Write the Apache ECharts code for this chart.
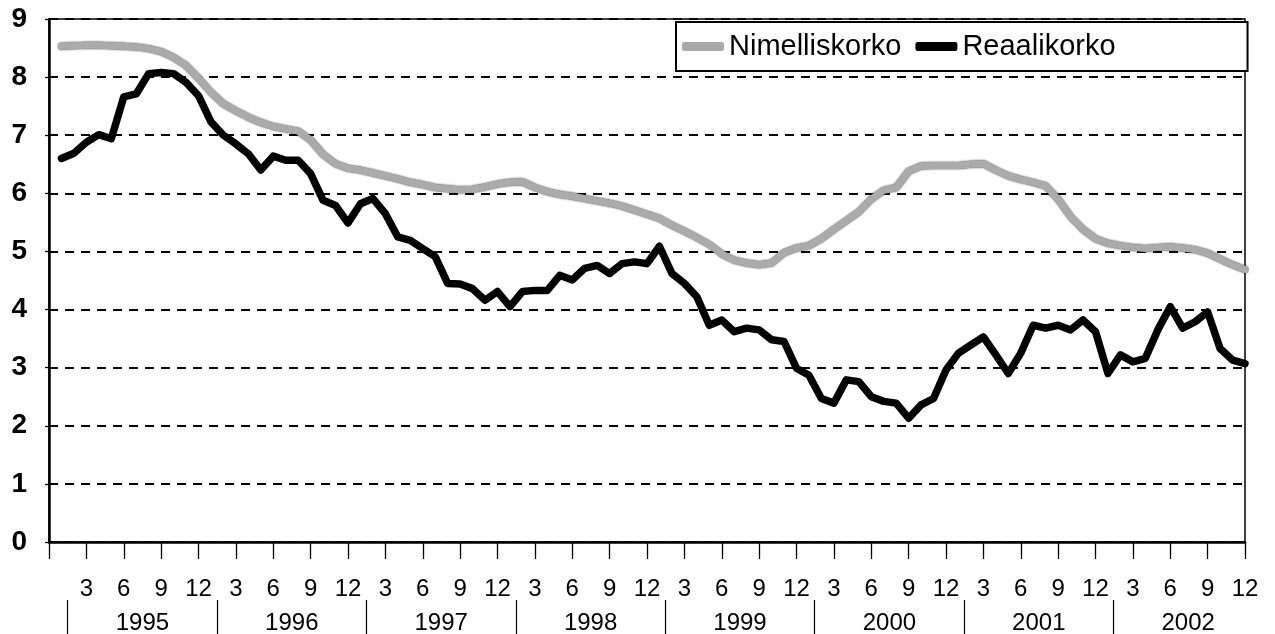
<!DOCTYPE html>
<html>
<head>
<meta charset="utf-8">
<title>Nimelliskorko ja reaalikorko</title>
<script src="https://cdn.jsdelivr.net/npm/echarts@6/dist/echarts.min.js"></script>
<style>
html,body{margin:0;padding:0;background:#fff;}
#main{width:1275px;height:634px;}
</style>
</head>
<body>
<div id="main"></div>
<script>
//kuukausiarvot 1/1995 - 12/2002
var nimelliskorko=[
    8.53,8.54,8.55,8.55,8.54,8.53,8.52,8.49,8.44,8.34,8.20,7.98,
    7.74,7.54,7.42,7.31,7.22,7.15,7.11,7.07,6.92,6.67,6.51,6.43,
    6.40,6.35,6.30,6.25,6.19,6.15,6.10,6.08,6.06,6.07,6.11,6.16,
    6.19,6.20,6.10,6.03,5.98,5.95,5.91,5.87,5.83,5.78,5.71,5.64,
    5.57,5.45,5.35,5.24,5.12,4.96,4.85,4.80,4.77,4.80,4.98,5.06,
    5.10,5.22,5.38,5.53,5.68,5.90,6.05,6.10,6.38,6.47,6.48,6.48,
    6.48,6.50,6.51,6.40,6.30,6.24,6.19,6.13,5.90,5.60,5.38,5.22,
    5.14,5.10,5.07,5.05,5.07,5.08,5.06,5.03,4.97,4.87,4.77,4.69
];
var reaalikorko=[
    6.60,6.69,6.88,7.01,6.94,7.66,7.71,8.06,8.08,8.06,7.91,7.68,
    7.23,7.00,6.85,6.68,6.40,6.64,6.57,6.57,6.34,5.88,5.79,5.49,
    5.82,5.91,5.65,5.25,5.19,5.05,4.91,4.45,4.44,4.36,4.16,4.31,
    4.05,4.31,4.33,4.33,4.59,4.51,4.71,4.76,4.62,4.79,4.82,4.79,
    5.09,4.62,4.45,4.22,3.73,3.82,3.62,3.68,3.65,3.48,3.45,2.99,
    2.87,2.47,2.39,2.79,2.76,2.50,2.42,2.39,2.13,2.36,2.47,2.96,
    3.25,3.39,3.53,3.22,2.90,3.25,3.73,3.68,3.73,3.65,3.82,3.62,
    2.90,3.22,3.10,3.16,3.65,4.05,3.68,3.79,3.96,3.33,3.13,3.07
];
var vuodet=['1995','1996','1997','1998','1999','2000','2001','2002'];
var kuukausiTikit=['3','6','9','12'];

//x-arvo = kuukauden järjestysnumero 1..96
function pisteet(arr){
    return arr.map(function (v,i) {
        return [i+1,v];
    });
}

var fontti='Liberation Sans, Arial, sans-serif';
var myChart=echarts.init(document.getElementById('main'));

option={
    animation:false,
    backgroundColor:'#fff',
    textStyle:{fontFamily:fontti,color:'#000'},
    legend:{
        left:676,
        top:22,
        orient:'horizontal',
        padding:[10,132,10,6],
        itemGap:14,
        itemWidth:42,
        itemHeight:9,
        icon:'roundRect',
        backgroundColor:'#fff',
        borderColor:'#000',
        borderWidth:2,
        borderRadius:0,
        selectedMode:false,
        textStyle:{fontFamily:fontti,fontSize:29,color:'#000'},
        data:['Nimelliskorko','Reaalikorko']
    },
    grid:[
        {left:49,right:30,top:19,bottom:92,show:true,borderColor:'#000',borderWidth:1.5,outerBoundsMode:'none'},
        //vuosirivi
        {left:67.7,top:560,height:40,width:9*149.4,outerBoundsMode:'none'}
    ],
    xAxis:[
        {
            type:'value',
            gridIndex:0,
            min:0,
            max:96,
            interval:3,
            axisLine:{show:true,lineStyle:{color:'#000',width:2.5}},
            axisTick:{show:true,length:17,lineStyle:{color:'#000',width:1.3}},
            axisLabel:{
                margin:35,
                fontSize:24,
                color:'#000',
                fontFamily:fontti,
                formatter:function (v) {
                    if(v===0){return '';}
                    let k=v%12===0?12:v%12;
                    return kuukausiTikit.indexOf(String(k))>=0?String(k):'';
                }
            },
            splitLine:{show:false}
        },
        {
            type:'category',
            gridIndex:1,
            boundaryGap:true,
            data:vuodet.concat(['']),
            axisLine:{show:false},
            axisTick:{
                show:true,
                length:34,
                interval:function (i) {return i<vuodet.length;},
                lineStyle:{color:'#000',width:1.2}
            },
            axisLabel:{interval:0,margin:11,fontSize:24,color:'#000',fontFamily:fontti}
        }
    ],
    yAxis:[
        {
            type:'value',
            gridIndex:0,
            min:0,
            max:9,
            interval:1,
            axisLine:{show:true,lineStyle:{color:'#000',width:2.5}},
            axisTick:{show:true,length:4,lineStyle:{color:'#000',width:1.3}},
            axisLabel:{margin:22,fontSize:28,fontWeight:'bold',color:'#000',fontFamily:fontti},
            splitLine:{show:true,lineStyle:{color:'#000',width:2,type:[9,7]}}
        },
        {gridIndex:1,show:false}
    ],
    series:[
        {
            name:'Nimelliskorko',
            type:'line',
            xAxisIndex:0,
            yAxisIndex:0,
            showSymbol:false,
            itemStyle:{color:'#a8a8a8'},
            lineStyle:{color:'#ababab',width:7,cap:'round',join:'round',
                shadowColor:'rgba(0,0,0,0.8)',shadowBlur:2},
            data:pisteet(nimelliskorko)
        },
        {
            name:'Reaalikorko',
            type:'line',
            xAxisIndex:0,
            yAxisIndex:0,
            showSymbol:false,
            itemStyle:{color:'#000'},
            lineStyle:{color:'#000',width:7.5,cap:'round',join:'round'},
            data:pisteet(reaalikorko)
        }
    ]
};
myChart.setOption(option);
</script>
</body>
</html>
